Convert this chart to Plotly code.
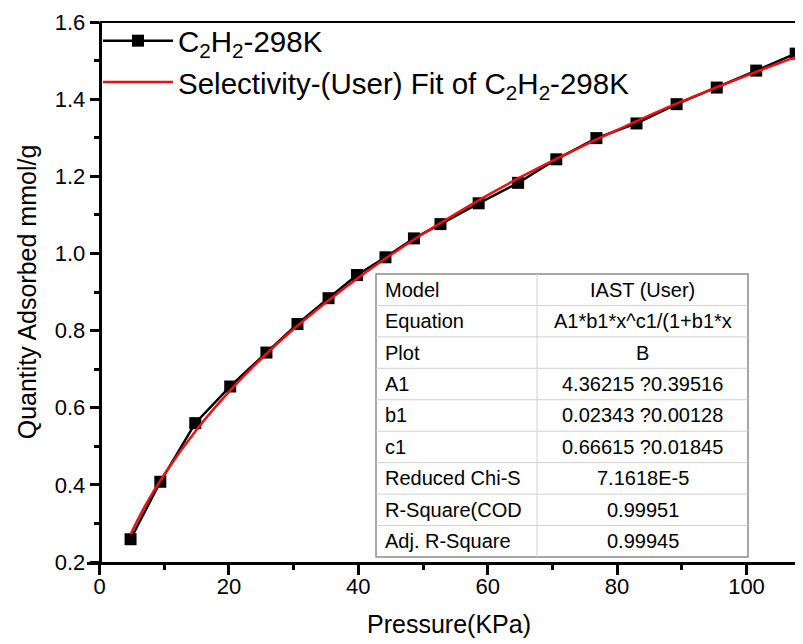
import plotly.graph_objects as go

# ---- data ----
pressure = [4.8, 9.4, 14.8, 20.2, 25.8, 30.6, 35.4, 39.8, 44.2, 48.6, 52.7,
            58.6, 64.7, 70.6, 76.8, 83.0, 89.2, 95.4, 101.5, 107.6]
quantity = [0.259, 0.408, 0.560, 0.655, 0.743, 0.817, 0.884, 0.944, 0.990,
            1.039, 1.076, 1.130, 1.183, 1.244, 1.299, 1.337, 1.387, 1.430,
            1.474, 1.518]

fit_x = [4.8, 7, 10, 15, 20, 25, 30, 35, 40, 45, 50, 55, 60, 65, 70, 75, 80,
         85, 90, 95, 100, 105, 108]
fit_y = [0.272, 0.344, 0.427, 0.543, 0.641, 0.727, 0.804, 0.873, 0.937,
         0.996, 1.051, 1.102, 1.151, 1.197, 1.240, 1.281, 1.320, 1.358,
         1.394, 1.428, 1.461, 1.493, 1.511]

x_ticks = [0, 20, 40, 60, 80, 100]
y_ticks = [0.2, 0.4, 0.6, 0.8, 1.0, 1.2, 1.4, 1.6]

table_labels = ["Model", "Equation", "Plot", "A1", "b1", "c1",
                "Reduced Chi-S", "R-Square(COD", "Adj. R-Square"]
table_values = ["IAST (User)", "A1*b1*x^c1/(1+b1*x", "B",
                "4.36215 ?0.39516", "0.02343 ?0.00128", "0.66615 ?0.01845",
                "7.1618E-5", "0.99951", "0.99945"]

series_name = "C<sub>2</sub>H<sub>2</sub>-298K"
fit_name = "Selectivity-(User) Fit of C<sub>2</sub>H<sub>2</sub>-298K"

FONT = "Arial, Liberation Sans, sans-serif"
W, H = 803, 644
PL, PR, PT, PB = 79, 803, 14, 554
X0PX = 91.5          # pixel of x = 0 (where the y axis sits)
XSCALE = 6.47        # pixels per kPa
x_lo = -(X0PX - PL) / XSCALE
x_hi = x_lo + (PR - PL) / XSCALE


def px(xp):
    return (xp - PL) / (PR - PL)


def py(yp):
    return (PB - yp) / (PB - PT)


fig = go.Figure()
fig.add_trace(go.Scatter(
    x=pressure, y=quantity, mode="lines+markers", name=series_name,
    line=dict(color="black", width=2.5),
    marker=dict(symbol="square", size=12, color="black"),
))
fig.add_trace(go.Scatter(
    x=fit_x, y=fit_y, mode="lines", name=fit_name,
    line=dict(color="#ee0f14", width=2.5, shape="spline"),
))

shapes = []
annotations = []

# top frame line
shapes.append(dict(type="line", xref="paper", yref="paper",
                   x0=px(X0PX), x1=1, y0=1, y1=1,
                   line=dict(color="black", width=2)))

# table
tx0, tx1, txm, ty0, ty1 = 368, 740, 529, 266, 549
n = len(table_labels)
rh = (ty1 - ty0) / n
shapes.append(dict(type="rect", xref="paper", yref="paper",
                   x0=px(tx0), x1=px(tx1), y0=py(ty1), y1=py(ty0),
                   fillcolor="white", line=dict(color="#8a8a8a", width=1.5),
                   layer="above"))
for i in range(1, n):
    yy = ty0 + i * rh
    shapes.append(dict(type="line", xref="paper", yref="paper",
                       x0=px(tx0), x1=px(tx1), y0=py(yy), y1=py(yy),
                       line=dict(color="#d0d0d0", width=1), layer="above"))
shapes.append(dict(type="line", xref="paper", yref="paper",
                   x0=px(txm), x1=px(txm), y0=py(ty0), y1=py(ty1),
                   line=dict(color="#d0d0d0", width=1), layer="above"))
for i, (lab, val) in enumerate(zip(table_labels, table_values)):
    yc = ty0 + (i + 0.5) * rh
    annotations.append(dict(xref="paper", yref="paper", x=px(tx0 + 7),
                            y=py(yc), text=lab, showarrow=False,
                            xanchor="left", yanchor="middle",
                            font=dict(family=FONT, size=20, color="black")))
    annotations.append(dict(xref="paper", yref="paper",
                            x=px((txm + tx1) / 2), y=py(yc), text=val,
                            showarrow=False, xanchor="center",
                            yanchor="middle",
                            font=dict(family=FONT, size=20, color="black")))

fig.update_layout(
    width=W, height=H,
    margin=dict(l=PL, r=W - PR, t=PT, b=H - PB),
    paper_bgcolor="white", plot_bgcolor="white",
    font=dict(family=FONT, color="black"),
    showlegend=True,
    legend=dict(x=px(90), y=py(7), xanchor="left", yanchor="top",
                bgcolor="rgba(0,0,0,0)", borderwidth=0,
                font=dict(family=FONT, size=29.5, color="black"),
                itemwidth=70, tracegroupgap=0),
    shapes=shapes,
    annotations=annotations,
    xaxis=dict(
        range=[x_lo, x_hi], tickmode="array", tickvals=x_ticks,
        ticktext=[str(v) for v in x_ticks],
        ticks="outside", ticklen=10, tickwidth=2.5, tickcolor="black",
        ticklabelstandoff=-7,
        showline=True, linecolor="black", linewidth=2.5,
        showgrid=False, zeroline=False,
        tickfont=dict(family=FONT, size=22, color="black"),
        minor=dict(ticks="outside", ticklen=5, tickwidth=2.5,
                   tickcolor="black", tickmode="linear", tick0=0, dtick=10,
                   showgrid=False),
        title=dict(text="Pressure(KPa)",
                   font=dict(family=FONT, size=25, color="black"),
                   standoff=18),
    ),
    yaxis=dict(
        range=[0.2, 1.6], tickmode="array", tickvals=y_ticks,
        ticktext=[f"{v:.1f}" for v in y_ticks],
        anchor="free", position=px(X0PX), side="left",
        ticks="outside", ticklen=9, tickwidth=2.5, tickcolor="black",
        showline=True, linecolor="black", linewidth=2.5,
        showgrid=False, zeroline=False,
        tickfont=dict(family=FONT, size=22, color="black"),
        minor=dict(ticks="outside", ticklen=5, tickwidth=2.5,
                   tickcolor="black", tickmode="linear", tick0=0.1,
                   dtick=0.1, showgrid=False),
        title=dict(text="Quantity Adsorbed mmol/g",
                   font=dict(family=FONT, size=25, color="black"),
                   standoff=10),
    ),
)

fig.write_html("out.html")
